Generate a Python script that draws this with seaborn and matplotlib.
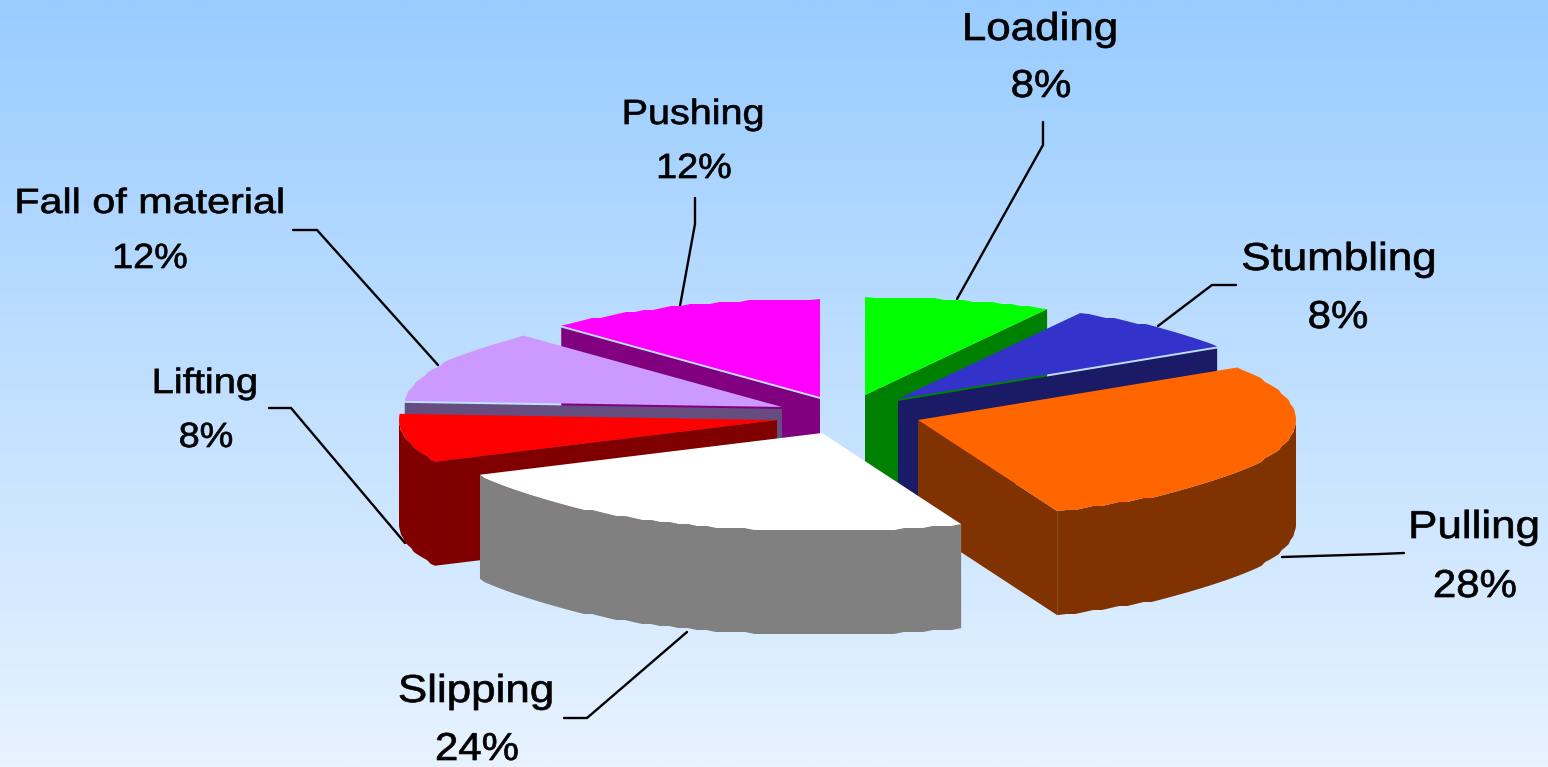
import numpy as np
import seaborn as sns
import matplotlib
matplotlib.use("Agg")
import matplotlib.pyplot as plt
from matplotlib.patheffects import AbstractPathEffect
from matplotlib.transforms import Affine2D

# chart data, clockwise from 12 o'clock
categories = ["Loading", "Stumbling", "Pulling", "Slipping", "Lifting", "Fall of material", "Pushing"]
values = [8, 8, 28, 24, 8, 12, 12]

top_colors = ["#00FF00", "#3333CC", "#FF6600", "#FFFFFF", "#FF0000", "#CC99FF", "#FF00FF"]
wall_colors = ["#008000", "#1A1A66", "#803300", "#808080", "#800000", "#664D80", "#800080"]
bg_colors = ["#99CCFF", "#E8F3FF"]

# pie layout in pixels
center_x, center_y = 842, 417
radius_x, radius_y = 378, 98
depth = 104
explode_x = [23, 56, 76, -20, -65, -60, -22]
explode_y = [-22, -18, 3, 16, 3, -10, -20]
wall_gap = [0, 2, 0, 0, 0, 2, 2]
draw_order = [0, 1, 6, 5, 4, 2, 3]

# labels, y is the text baseline
name_x = [1040, 1339, 1474, 476, 205, 150, 693]
name_y = [40, 270, 538, 702, 393, 213, 124]
value_x = [1041, 1338, 1475, 477, 206, 150, 694]
value_y = [97, 328, 597, 760, 447, 268, 178]
label_size = [28, 28, 28, 28, 25.2, 25.2, 25.2]
name_stretch = [1.13, 1.13, 1.13, 1.13, 1.14, 1.18, 1.13]
value_stretch = 1.08
leader_x = [[1043, 1043, 957], [1236, 1212, 1158], [1404, 1380, 1282], [564, 587, 687],
            [269, 291, 405], [293, 317, 438], [695, 695, 680]]
leader_y = [[122, 145, 299], [285, 285, 326], [553, 554, 557], [718, 718, 632],
            [408, 408, 543], [230, 230, 365], [198, 224, 306]]


class StretchX(AbstractPathEffect):
    # the original text is tracked out and heavy, so widen and thicken the glyphs a bit
    def __init__(self, factor, cx):
        super().__init__()
        self.factor = factor
        self.cx = cx

    def draw_path(self, renderer, gc, tpath, affine, rgbFace=None):
        stretched = affine + Affine2D().translate(-self.cx, 0).scale(self.factor, 1).translate(self.cx, 0)
        gc0 = renderer.new_gc()
        gc0.copy_properties(gc)
        gc0.set_linewidth(0.5)
        gc0.set_foreground("black")
        renderer.draw_path(gc0, tpath, stretched, rgbFace)
        gc0.restore()


sns.set_style("white")
plt.rcParams["font.family"] = ["Liberation Sans", "DejaVu Sans"]

fig = plt.figure(figsize=(15.48, 7.67), dpi=100)
ax = fig.add_axes([0, 0, 1, 1])

# background gradient
cmap = sns.blend_palette(bg_colors, n_colors=256, as_cmap=True)
ax.imshow(np.linspace(0, 1, 256).reshape(-1, 1), cmap=cmap, aspect="auto", extent=(0, 1548, 767, 0), zorder=0)

# slice angles come from the values
edges = np.cumsum([0] + values) / sum(values) * 2 * np.pi


def arc_xy(i, t):
    x = center_x + explode_x[i] + radius_x * np.sin(t)
    y = center_y + explode_y[i] - radius_y * np.cos(t)
    # the original rim is slightly stepped
    y[1:-1] = np.round(y[1:-1] / 2) * 2
    return x, y


for z, i in enumerate(draw_order):
    apex_x, apex_y = center_x + explode_x[i], center_y + explode_y[i]
    n = int(np.degrees(edges[i + 1] - edges[i]) / 1.5) + 1
    t = np.linspace(edges[i], edges[i + 1], n)
    x, y = arc_xy(i, t)
    g = wall_gap[i]
    zo = 2 + z

    # outer wall, only the front half of the rim shows
    if edges[i + 1] > np.pi / 2 and edges[i] < 3 * np.pi / 2:
        wx, wy = arc_xy(i, np.clip(t, np.pi / 2, 3 * np.pi / 2))
        ax.fill(np.r_[wx, wx[::-1]], np.r_[wy, wy[::-1] + depth], color=wall_colors[i], lw=0, zorder=zo)
    # cut walls, a cut only shows when the slice lies above it
    cuts = []
    if np.sin(edges[i]) < -1e-9:
        cuts.append((x[0], y[0]))
    if np.sin(edges[i + 1]) > 1e-9:
        cuts.append((x[-1], y[-1]))
    for ex, ey in cuts:
        ax.fill([apex_x, ex, ex, apex_x], [apex_y + g, ey + g, ey + depth, apex_y + depth],
                color=wall_colors[i], lw=0, zorder=zo)
    # top face
    ax.fill(np.r_[apex_x, x], np.r_[apex_y, y], color=top_colors[i], lw=0, zorder=zo)

# leaders and labels
for i, name in enumerate(categories):
    ax.plot(leader_x[i], leader_y[i], color="black", lw=1.7, solid_joinstyle="miter", zorder=1)
    t1 = ax.text(name_x[i], name_y[i], name, ha="center", va="baseline",
                 fontsize=label_size[i], color="black", zorder=20)
    t1.set_path_effects([StretchX(name_stretch[i], name_x[i])])
    t2 = ax.text(value_x[i], value_y[i], f"{values[i]}%", ha="center", va="baseline",
                 fontsize=label_size[i], color="black", zorder=20)
    t2.set_path_effects([StretchX(value_stretch, value_x[i])])

ax.set_xlim(0, 1548)
ax.set_ylim(767, 0)
ax.axis("off")

fig.savefig("out.png", dpi=100)
